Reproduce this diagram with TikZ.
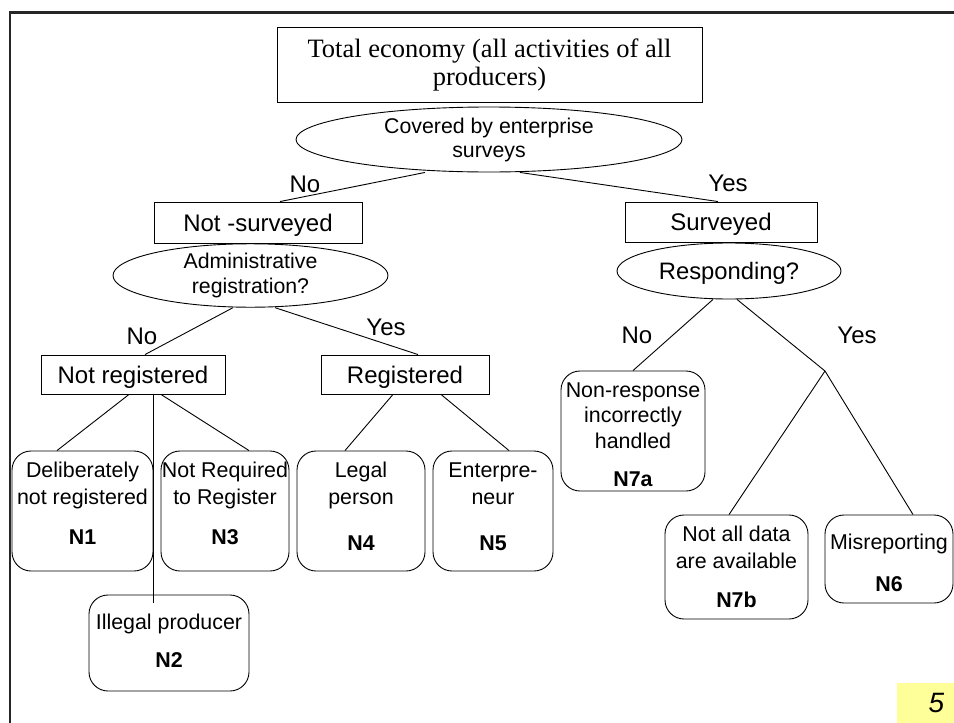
\documentclass[tikz,border=0pt]{standalone}
\usepackage{fontspec}
\setmainfont{Liberation Sans}
\newfontfamily\timesfont{Liberation Serif}
\usepackage{xcolor}
\usepackage{tikz}
\usetikzlibrary{shapes.geometric}
\definecolor{notepad}{HTML}{FFFF99}
\tikzstyle{root} = [rectangle, draw=black, line width=0.9pt, inner sep=0pt, align=center, font=\timesfont\fontsize{26.5}{28}\selectfont]
\tikzstyle{decision} = [ellipse, draw=black, line width=0.9pt, inner sep=0pt, align=center]
\tikzstyle{process} = [rectangle, draw=black, line width=0.9pt, inner sep=0pt, text height=17pt, text depth=0pt, font=\fontsize{24}{28}\selectfont]
\tikzstyle{outcome} = [rectangle, rounded corners=19pt, draw=black, line width=0.9pt, inner sep=0pt, align=center, font=\fontsize{21.4}{27}\selectfont]
\tikzstyle{answer} = [inner sep=0pt, font=\fontsize{24}{28}\selectfont]
\tikzstyle{branch} = [line width=0.9pt]

\begin{document}
\begin{tikzpicture}[x=1pt, y=-1pt]
        \useasboundingbox (0,0) rectangle (954,723);
        \draw [line width=2.4pt, black!85] (954,12.5) -- (10.2,12.5) -- (10.2,723);

        % Nodes
        \node (total) [root, minimum width=425pt, minimum height=75pt] at (489.5,64.5) {Total economy (all activities of all\\producers)};
        \node (cover) [decision, minimum width=386pt, minimum height=65pt, font=\fontsize{21.3}{24}\selectfont] at (489,139.5) {Covered by enterprise\\surveys};
        \node (notsurv) [process, minimum width=208pt, minimum height=41pt] at (258,222.5) {Not -surveyed};
        \node (surv) [process, minimum width=192pt, minimum height=40pt] at (721,222) {Surveyed};
        \node (admin) [decision, minimum width=275pt, minimum height=63pt, font=\fontsize{21.3}{25}\selectfont] at (250.5,275.5) {Administrative\\registration?};
        \node (resp) [decision, minimum width=224pt, minimum height=56pt, text height=17pt, text depth=0pt, font=\fontsize{23.8}{28}\selectfont] at (729,271) {Responding?};
        \node (notreg) [process, minimum width=184pt, minimum height=39pt] at (133,374.5) {Not registered};
        \node (reg) [process, minimum width=168pt, minimum height=39pt] at (405,374.5) {Registered};
        \node (n1) [outcome, minimum width=141pt, minimum height=120pt] at (82.5,511) {Deliberately\\not registered\\[13pt]\textbf{N1}\rule[-15pt]{0pt}{15pt}};
        \node (n3) [outcome, minimum width=128pt, minimum height=120pt] at (225,511) {Not Required\\to Register\\[13pt]\textbf{N3}\rule[-15pt]{0pt}{15pt}};
        \node (n4) [outcome, minimum width=128pt, minimum height=120pt] at (361,511) {Legal\\person\\[19pt]\textbf{N4}\rule[-9pt]{0pt}{9pt}};
        \node (n5) [outcome, minimum width=120pt, minimum height=120pt] at (493,511) {Enterpre-\\neur\\[19pt]\textbf{N5}\rule[-9pt]{0pt}{9pt}};
        \node (n2) [outcome, minimum width=160pt, minimum height=96pt] at (169,643) {Illegal producer\\[11pt]\textbf{N2}\rule[-4pt]{0pt}{4pt}};
        \node (n7a) [outcome, minimum width=144pt, minimum height=120pt, font=\fontsize{21.4}{25.5}\selectfont] at (633,431) {\rule{0pt}{22pt}Non-response\\incorrectly\\handled\\[12.5pt]\textbf{N7a}};
        \node (n7b) [outcome, minimum width=143pt, minimum height=104pt] at (736.5,567) {Not all data\\are available\\[12pt]\textbf{N7b}};
        \node (n6) [outcome, minimum width=128pt, minimum height=88pt] at (889,559) {\rule{0pt}{23pt}Misreporting\\[15pt]\textbf{N6}};
        \coordinate (fork) at (825,371);

        \node (no1) [answer] at (305,184.5) {No};
        \node (yes1) [answer] at (728,183.5) {Yes};
        \node (no2) [answer] at (142,336) {No};
        \node (yes2) [answer] at (386,327) {Yes};
        \node (no3) [answer] at (637,335) {No};
        \node (yes3) [answer] at (857,335) {Yes};
        \node (page) [fill=notepad, minimum width=57pt, minimum height=40pt, inner sep=0pt, font=\itshape\fontsize{28}{30}\selectfont] at (925.5,703) {\hspace*{22pt}5};

        % Lines
        \draw [branch] ([xshift=-64pt]cover.south) -- ([xshift=22pt]notsurv.north);
        \draw [branch] ([xshift=31pt]cover.south) -- ([xshift=-3pt]surv.north);
        \draw [branch] ([xshift=-17.5pt]admin.south) -- ([xshift=12pt]notreg.north);
        \draw [branch] ([xshift=24.5pt]admin.south) -- ([xshift=13pt]reg.north);
        \draw [branch] ([xshift=-16pt]resp.south) -- (n7a.north);
        \draw [branch] ([xshift=8pt]resp.south) -- (fork);
        \draw [branch] (fork) -- ([xshift=-7.5pt]n7b.north);
        \draw [branch] (fork) -- ([xshift=24pt]n6.north);
        \draw [branch] ([xshift=-4pt]notreg.south) -- ([xshift=-25.5pt]n1.north);
        \draw [branch] ([xshift=28pt]notreg.south) -- ([xshift=24pt]n3.north);
        \draw [branch] ([xshift=20pt]notreg.south) -- ([xshift=-16pt,yshift=-8pt]n2.north);
        \draw [branch] ([xshift=-12pt]reg.south) -- ([xshift=-16pt]n4.north);
        \draw [branch] ([xshift=36pt]reg.south) -- ([xshift=16pt]n5.north);

    \end{tikzpicture}
\end{document}
